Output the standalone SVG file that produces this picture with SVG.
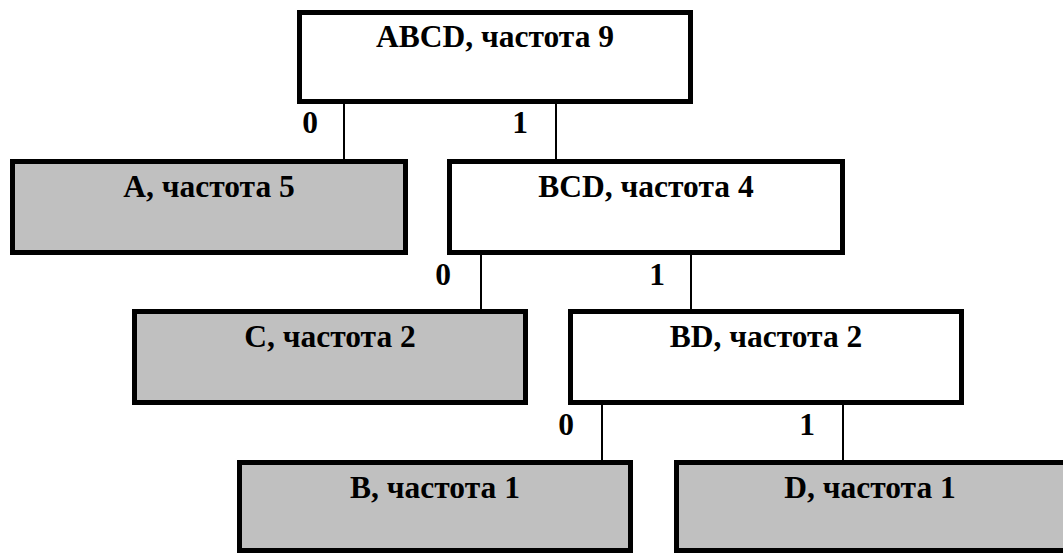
<svg xmlns="http://www.w3.org/2000/svg" width="1063" height="553" viewBox="0 0 1063 553">
<style>
.box{stroke:#000;stroke-width:5;}
.int{fill:#fff;}
.leaf{fill:#c0c0c0;}
.t{font-family:"Liberation Serif","Times New Roman",serif;font-weight:bold;font-size:31.5px;fill:#000;text-anchor:middle;}
.e{stroke:#000;stroke-width:2;fill:none;}
</style>
<rect width="1063" height="553" fill="#fff"/>
<g id="connectors">
<line class="e" x1="344" y1="104" x2="344" y2="159"/>
<line class="e" x1="556" y1="104" x2="556" y2="159"/>
<line class="e" x1="481" y1="255" x2="481" y2="309"/>
<line class="e" x1="691" y1="255" x2="691" y2="309"/>
<line class="e" x1="602" y1="405" x2="602" y2="460"/>
<line class="e" x1="843" y1="405" x2="843" y2="460"/>
<text class="t" x="310" y="133">0</text>
<text class="t" x="520" y="133">1</text>
<text class="t" x="443" y="285">0</text>
<text class="t" x="657" y="285">1</text>
<text class="t" x="566" y="435">0</text>
<text class="t" x="807" y="435">1</text>
</g>
<g id="node-ABCD">
<rect class="box int" x="299.5" y="12.5" width="391" height="89"/>
<text class="t" x="495" y="47">ABCD, частота 9</text>
</g>
<g id="node-A">
<rect class="box leaf" x="12.5" y="161.5" width="393" height="91"/>
<text class="t" x="209" y="197">A, частота 5</text>
</g>
<g id="node-BCD">
<rect class="box int" x="449.5" y="161.5" width="393" height="91"/>
<text class="t" x="646" y="197">BCD, частота 4</text>
</g>
<g id="node-C">
<rect class="box leaf" x="134.5" y="311.5" width="391" height="91"/>
<text class="t" x="330" y="347">C, частота 2</text>
</g>
<g id="node-BD">
<rect class="box int" x="570.5" y="311.5" width="391" height="91"/>
<text class="t" x="766" y="347">BD, частота 2</text>
</g>
<g id="node-B">
<rect class="box leaf" x="239.5" y="462.5" width="391" height="88"/>
<text class="t" x="435" y="498">B, частота 1</text>
</g>
<g id="node-D">
<rect class="box leaf" x="676.5" y="462.5" width="391" height="88"/>
<text class="t" x="870" y="498">D, частота 1</text>
</g>
</svg>
